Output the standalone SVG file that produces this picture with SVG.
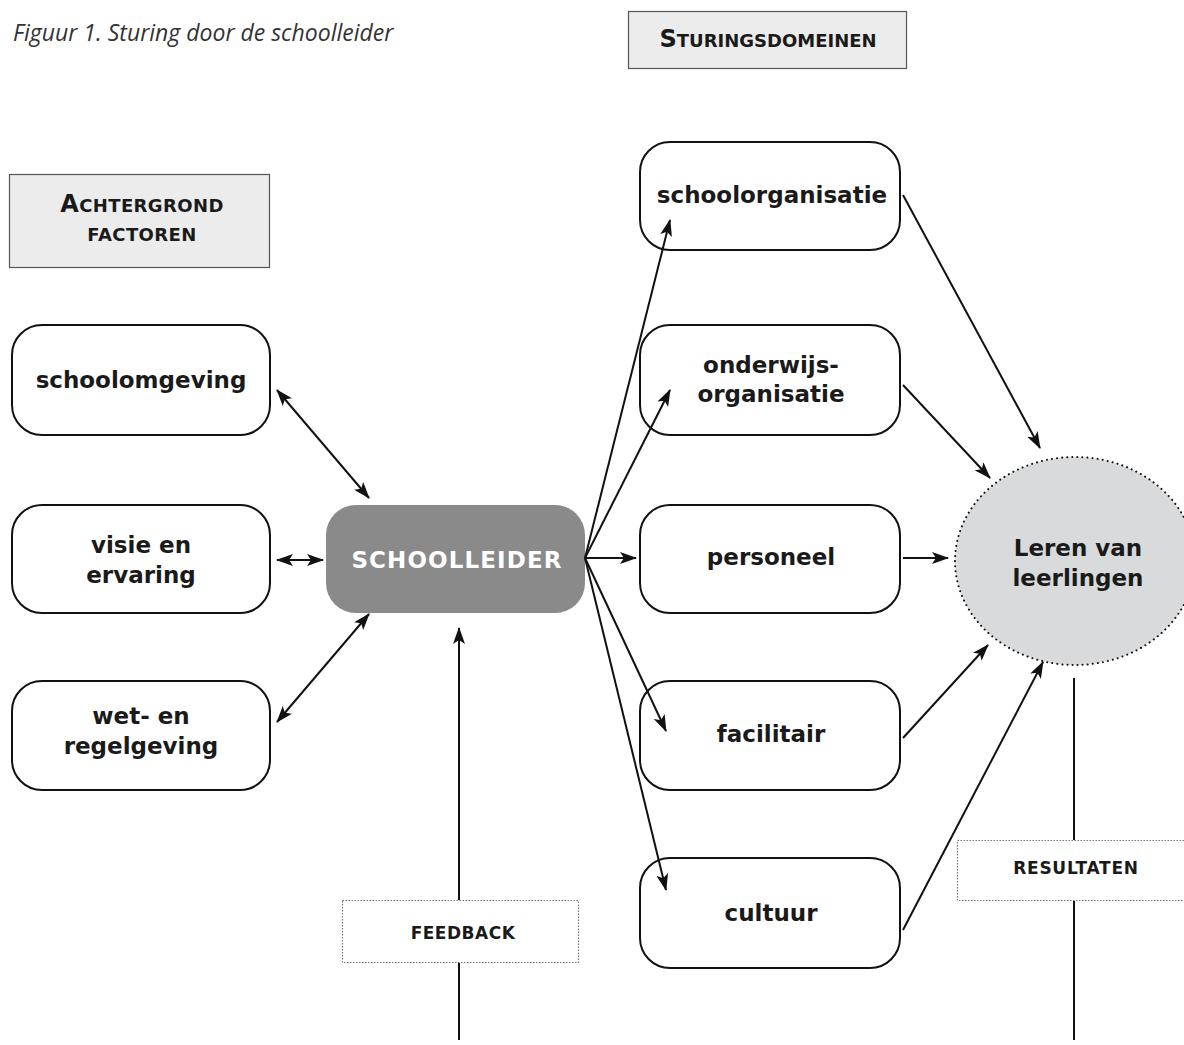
<svg xmlns="http://www.w3.org/2000/svg" width="1184" height="1045" viewBox="0 0 1184 1045">
<style>
.node{fill:#fff;stroke:#111;stroke-width:2}
.lbl{font-family:"DejaVu Sans","Open Sans",sans-serif;font-weight:bold;font-size:23px;fill:#1a1a1a;text-anchor:middle}
.hdr{fill:#ececec;stroke:#555;stroke-width:1.2}
.sc{font-family:"DejaVu Sans","Open Sans",sans-serif;font-weight:bold;fill:#1a1a1a;text-anchor:middle}
.dot{fill:#fff;stroke:#777;stroke-width:1.2;stroke-dasharray:1.5 1.5}
.ln{stroke:#111;stroke-width:2;fill:none}
</style>
<defs>
<marker id="ah" viewBox="0 0 17 12" refX="16" refY="6" markerWidth="17" markerHeight="12" markerUnits="userSpaceOnUse" orient="auto-start-reverse">
<path d="M0,0 L17,6 L0,12 L4,6 z" fill="#111"/>
</marker>
</defs>
<text x="13" y="41" font-family="'Open Sans','Liberation Sans',sans-serif" font-style="italic" font-size="23" fill="#333">Figuur 1. Sturing door de schoolleider</text>

<g id="hdr-sturing">
<rect class="hdr" x="628.5" y="11.5" width="278" height="57"/>
<text class="sc" x="768" y="47" font-size="18"><tspan font-size="24">S</tspan>TURINGSDOMEINEN</text>
</g>
<g id="hdr-achtergrond">
<rect class="hdr" x="9.5" y="174.5" width="260" height="93"/>
<text class="sc" x="142" y="212" font-size="18" letter-spacing="0.4"><tspan font-size="24">A</tspan>CHTERGROND</text>
<text class="sc" x="142" y="241" font-size="18" letter-spacing="0.4">FACTOREN</text>
</g>

<g id="n-schoolomgeving">
<rect class="node" x="12" y="325" width="258" height="110" rx="30"/>
<text class="lbl" x="141" y="388">schoolomgeving</text>
</g>
<g id="n-visie">
<rect class="node" x="12" y="505" width="258" height="108" rx="30"/>
<text class="lbl" x="141" y="553">visie en</text>
<text class="lbl" x="141" y="583">ervaring</text>
</g>
<g id="n-wet">
<rect class="node" x="12" y="681" width="258" height="109" rx="30"/>
<text class="lbl" x="141" y="724">wet- en</text>
<text class="lbl" x="141" y="754">regelgeving</text>
</g>
<g id="n-schoolleider">
<rect x="326" y="505" width="259" height="108" rx="30" fill="#8a8a8b"/>
<text class="lbl" x="457" y="568" style="fill:#fff" font-size="18" letter-spacing="1.1">SCHOOLLEIDER</text>
</g>
<g id="n-schoolorganisatie">
<rect class="node" x="640" y="142" width="260" height="108" rx="30"/>
<text class="lbl" x="772" y="203">schoolorganisatie</text>
</g>
<g id="n-onderwijs">
<rect class="node" x="640" y="325" width="260" height="110" rx="30"/>
<text class="lbl" x="771" y="373">onderwijs-</text>
<text class="lbl" x="771" y="402">organisatie</text>
</g>
<g id="n-personeel">
<rect class="node" x="640" y="505" width="260" height="108" rx="30"/>
<text class="lbl" x="771" y="565">personeel</text>
</g>
<g id="n-facilitair">
<rect class="node" x="640" y="681" width="260" height="109" rx="30"/>
<text class="lbl" x="771" y="742">facilitair</text>
</g>
<g id="n-cultuur">
<rect class="node" x="640" y="858" width="260" height="110" rx="30"/>
<text class="lbl" x="771" y="921">cultuur</text>
</g>
<g id="n-leren">
<ellipse cx="1075" cy="561" rx="120" ry="104" fill="#d9dadb" stroke="#111" stroke-width="2" stroke-dasharray="0.1 5" stroke-linecap="round"/>
<text class="lbl" x="1078" y="556" font-size="24.5">Leren van</text>
<text class="lbl" x="1078" y="586" font-size="24.5">leerlingen</text>
</g>
<g id="n-feedback">
<rect class="dot" x="342.5" y="900.5" width="236" height="62"/>
<text class="sc" x="463" y="939" font-size="17" letter-spacing="0.5">FEEDBACK</text>
</g>
<g id="n-resultaten">
<rect class="dot" x="957.5" y="840.5" width="240" height="60"/>
<text class="sc" x="1076" y="874" font-size="17" letter-spacing="0.7">RESULTATEN</text>
</g>

<g id="connectors">
<line class="ln" x1="459" y1="1040" x2="459" y2="963"/>
<line class="ln" x1="459" y1="900" x2="459" y2="628" marker-end="url(#ah)"/>
<line class="ln" x1="1074" y1="678" x2="1074" y2="840"/>
<line class="ln" x1="1074" y1="901" x2="1074" y2="1040"/>
<line class="ln" x1="277" y1="390" x2="369" y2="498" marker-start="url(#ah)" marker-end="url(#ah)"/>
<line class="ln" x1="277" y1="560" x2="323" y2="560" marker-start="url(#ah)" marker-end="url(#ah)"/>
<line class="ln" x1="277" y1="722" x2="369" y2="614" marker-start="url(#ah)" marker-end="url(#ah)"/>
<line class="ln" x1="585" y1="558" x2="670" y2="220" marker-end="url(#ah)"/>
<line class="ln" x1="585" y1="558" x2="670" y2="390" marker-end="url(#ah)"/>
<line class="ln" x1="585" y1="558" x2="636" y2="558" marker-end="url(#ah)"/>
<line class="ln" x1="585" y1="558" x2="666" y2="731" marker-end="url(#ah)"/>
<line class="ln" x1="585" y1="558" x2="666" y2="890" marker-end="url(#ah)"/>
<line class="ln" x1="903" y1="195" x2="1040" y2="448" marker-end="url(#ah)"/>
<line class="ln" x1="903" y1="385" x2="990" y2="478" marker-end="url(#ah)"/>
<line class="ln" x1="903" y1="558" x2="948" y2="558" marker-end="url(#ah)"/>
<line class="ln" x1="903" y1="738" x2="988" y2="645" marker-end="url(#ah)"/>
<line class="ln" x1="903" y1="930" x2="1043" y2="662" marker-end="url(#ah)"/>
</g>
</svg>
